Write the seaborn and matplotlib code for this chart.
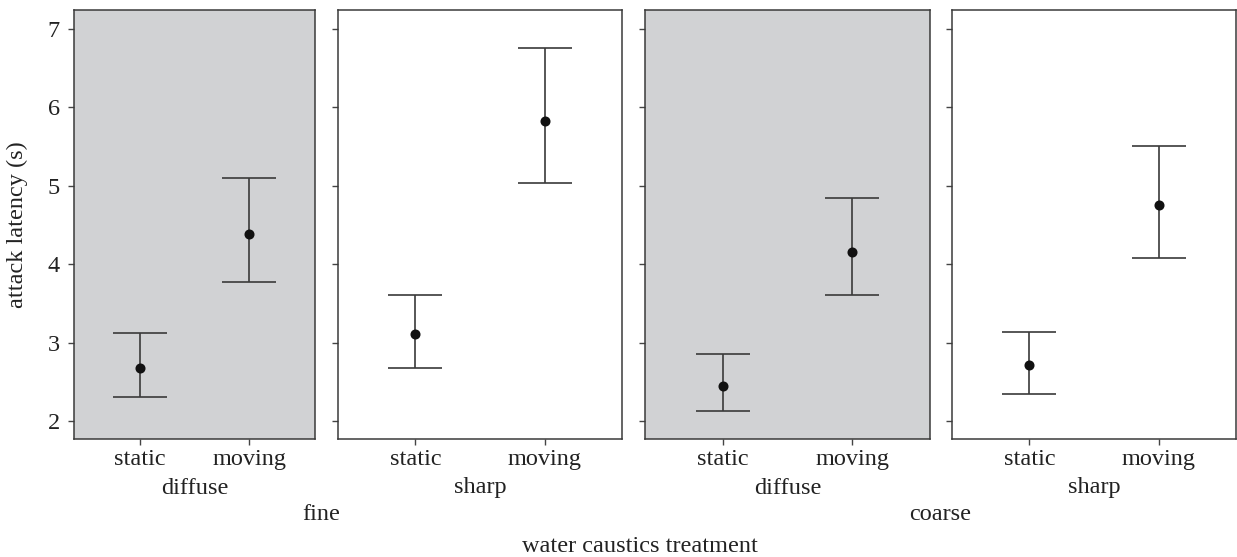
import numpy as np
import pandas as pd
import matplotlib
matplotlib.use("Agg")
import matplotlib.pyplot as plt
import seaborn as sns

# ---- data ----
motion = ["static", "moving"]
edge = ["diffuse", "sharp", "diffuse", "sharp"]
scale = ["fine", "fine", "coarse", "coarse"]

mean_vals = [[2.68, 4.39], [3.11, 5.83], [2.45, 4.16], [2.71, 4.75]]
lower_vals = [[2.31, 3.77], [2.68, 5.03], [2.13, 3.60], [2.34, 4.08]]
upper_vals = [[3.12, 5.10], [3.61, 6.75], [2.86, 4.84], [3.14, 5.50]]

panel_bg = ["#d1d2d4", "white", "#d1d2d4", "white"]

sns.set_theme(style="ticks")
plt.rcParams["font.family"] = ["Liberation Serif", "DejaVu Serif"]
plt.rcParams["axes.edgecolor"] = "#3a3a3a"
plt.rcParams["axes.linewidth"] = 1.1

W, H = 1237, 557
fig = plt.figure(figsize=(W / 100, H / 100), dpi=100)

# panel rectangles in pixels (left, right)
rects = [(74, 315), (338, 622), (645, 930), (952, 1236)]
top_px, bot_px = 10, 439
fs = 17.5

for i, (l, r) in enumerate(rects):
    ax = fig.add_axes([l / W, (H - bot_px) / H, (r - l) / W, (bot_px - top_px) / H])
    df = pd.DataFrame({"motion": motion, "mean": mean_vals[i],
                       "lo": lower_vals[i], "hi": upper_vals[i]})
    x = np.arange(len(motion))
    ax.errorbar(x, df["mean"], yerr=[df["mean"] - df["lo"], df["hi"] - df["mean"]],
                fmt="none", ecolor="#3a3a3a", elinewidth=1.2, capsize=19.5,
                capthick=1.2, zorder=2)
    sns.pointplot(data=df, x="motion", y="mean", order=motion, errorbar=None,
                  linestyle="none", color="#111111", markersize=5.2, ax=ax,
                  zorder=3)
    ax.set_facecolor(panel_bg[i])
    ax.set_xlim(-0.6, 1.6)
    ax.set_ylim(1.77, 7.24)
    ax.set_yticks([2, 3, 4, 5, 6, 7])
    ax.set_xlabel("")
    ax.set_ylabel("")
    ax.tick_params(axis="both", direction="out", length=4, width=1.0,
                   color="#444444", labelsize=fs, labelcolor="#222222")
    ax.tick_params(axis="x", pad=3)
    ax.tick_params(axis="y", pad=6)
    if i > 0:
        ax.set_yticklabels([])
    for s in ax.spines.values():
        s.set_visible(True)
        s.set_color("#3a3a3a")

    # second-level label under each panel
    fig.text((l + r) / 2 / W, 1 - 488 / H, edge[i], ha="center", va="center",
             fontsize=fs, color="#222222")

# top-level group labels
fig.text(321 / W, 1 - 515 / H, "fine", ha="center", va="center",
         fontsize=fs, color="#222222")
fig.text(940 / W, 1 - 515 / H, "coarse", ha="center", va="center",
         fontsize=fs, color="#222222")
fig.text(640 / W, 1 - 547 / H, "water caustics treatment", ha="center",
         va="center", fontsize=fs, color="#222222")
fig.text(17 / W, 1 - 225 / H, "attack latency (s)", ha="center", va="center",
         rotation=90, fontsize=fs, color="#222222")

fig.savefig("out.png", dpi=100, facecolor="white")
